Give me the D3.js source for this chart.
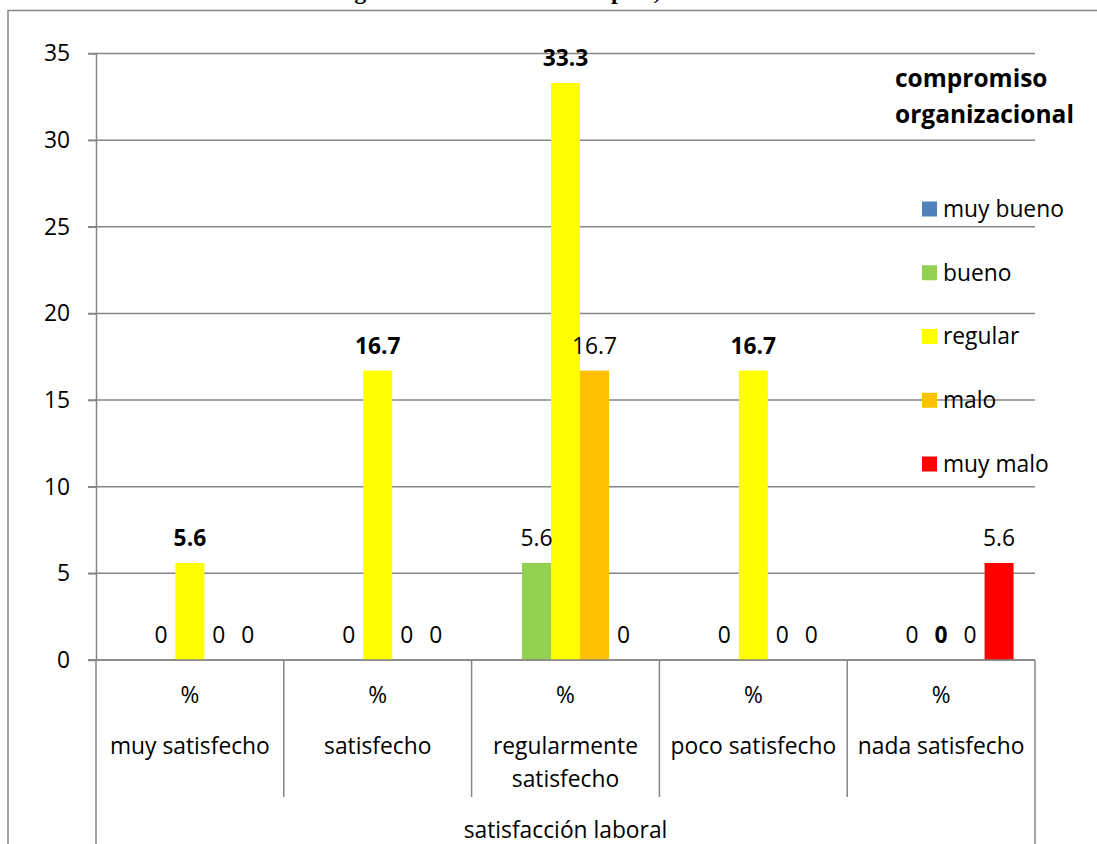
<!DOCTYPE html>
<html>
<head>
<meta charset="utf-8">
<script src="https://cdn.jsdelivr.net/npm/d3@7"></script>
<style>
  body { margin: 0; background: #fff; }
  svg text { font-family: "Open Sans", Lato, sans-serif; fill: #000; }
</style>
</head>
<body>
<svg id="chart" width="1097" height="844"></svg>
<script>
// categories and series
var categories = ["muy satisfecho", "satisfecho", "regularmente satisfecho", "poco satisfecho", "nada satisfecho"];
var series = ["muy bueno", "bueno", "regular", "malo", "muy malo"];

// % per series, one value per category
var muyBueno = [0, 0, 0, 0, 0];
var bueno = [0, 0, 5.6, 0, 0];
var regular = [5.6, 16.7, 33.3, 16.7, 0];
var malo = [0, 0, 16.7, 0, 0];
var muyMalo = [0, 0, 0, 0, 5.6];

var yTicks = [0, 5, 10, 15, 20, 25, 30, 35];
var subLabel = "%";
var groupLabel = "satisfacción laboral";
var legendTitle = ["compromiso", "organizacional"];
var titleText = "Satisfacción laboral según los resultados del empleo, 2016";

var values = [muyBueno, bueno, regular, malo, muyMalo];
var colors = ["#4F81BD", "#92D050", "#FFFF00", "#FFC000", "#FF0000"];

var svg = d3.select("#chart");
var gridColor = "#868686";
var fontSize = "22.8px";

var plotLeft = 96, plotRight = 1035, plotBottom = 660, plotTop = 53.5;

var x0 = d3.scaleBand().domain(categories).range([plotLeft, plotRight]);
var x1 = d3.scaleBand().domain(series).range([0, x0.bandwidth()])
    .paddingInner(0).paddingOuter(0.74);
var y = d3.scaleLinear().domain([0, 35]).range([plotBottom, plotTop]);

// title (only its descenders show at the top of the picture)
svg.append("text")
    .attr("x", 420)
    .attr("y", -1)
    .attr("text-anchor", "middle")
    .style("font-family", "'Liberation Serif', serif")
    .style("font-weight", "bold")
    .style("font-size", "24px")
    .text(titleText);

// outer chart frame
svg.append("rect")
    .attr("x", 8).attr("y", 10.5)
    .attr("width", 1200).attr("height", 1000)
    .attr("fill", "none")
    .attr("stroke", gridColor)
    .attr("stroke-width", 1.5);

// gridlines
svg.append("g").selectAll("line")
    .data(yTicks)
    .enter().append("line")
    .attr("x1", plotLeft - 8).attr("x2", plotRight)
    .attr("y1", function (d) { return y(d); })
    .attr("y2", function (d) { return y(d); })
    .attr("stroke", gridColor)
    .attr("stroke-width", 1.5);

// y axis
var yAxis = svg.append("g")
    .attr("transform", "translate(" + plotLeft + ",0)")
    .call(d3.axisLeft(y).tickValues(yTicks).tickSize(8).tickSizeOuter(0).tickPadding(18));
yAxis.select(".domain").attr("stroke", gridColor).attr("stroke-width", 1.5);
yAxis.selectAll(".tick line").attr("stroke", gridColor).attr("stroke-width", 1.5);
yAxis.selectAll("text").style("font-size", fontSize).style("font-family", "'Open Sans', sans-serif").attr("fill", "#000");

// bars
var groups = svg.append("g").selectAll("g")
    .data(categories)
    .enter().append("g")
    .attr("transform", function (d) { return "translate(" + x0(d) + ",0)"; });

groups.selectAll("rect")
    .data(function (c, i) {
        return series.map(function (s, j) { return { s: s, j: j, v: values[j][i] }; });
    })
    .enter().append("rect")
    .attr("x", function (d) { return x1(d.s); })
    .attr("width", x1.bandwidth())
    .attr("y", function (d) { return y(d.v); })
    .attr("height", function (d) { return plotBottom - y(d.v); })
    .attr("fill", function (d) { return colors[d.j]; });

// data labels (the first series has none, "regular" is bold)
groups.selectAll("text.lab")
    .data(function (c, i) {
        return series.map(function (s, j) { return { s: s, j: j, v: values[j][i] }; })
            .filter(function (d) { return d.j > 0; });
    })
    .enter().append("text")
    .attr("class", "lab")
    .attr("x", function (d) { return x1(d.s) + x1.bandwidth() / 2; })
    .attr("y", function (d) { return y(d.v) - 17; })
    .attr("text-anchor", "middle")
    .style("font-size", fontSize)
    .style("font-weight", function (d) { return d.j === 2 ? "bold" : "normal"; })
    .text(function (d) { return d.v; });

// x axis line and category dividers
svg.append("line")
    .attr("x1", plotLeft - 8).attr("x2", plotRight)
    .attr("y1", plotBottom).attr("y2", plotBottom)
    .attr("stroke", gridColor).attr("stroke-width", 1.5);

var edges = categories.map(function (c) { return x0(c); }).concat([plotRight]);
svg.append("g").selectAll("line")
    .data(edges)
    .enter().append("line")
    .attr("x1", function (d) { return d; })
    .attr("x2", function (d) { return d; })
    .attr("y1", plotBottom)
    .attr("y2", function (d, i) { return (i === 0 || i === edges.length - 1) ? 844 : 797; })
    .attr("stroke", gridColor).attr("stroke-width", 1.5);

// category labels
var catLabels = svg.append("g").selectAll("g")
    .data(categories)
    .enter().append("g")
    .attr("transform", function (d) { return "translate(" + (x0(d) + x0.bandwidth() / 2) + ",0)"; });

catLabels.append("text")
    .attr("y", 703)
    .attr("text-anchor", "middle")
    .style("font-size", fontSize)
    .text(subLabel);

catLabels.append("text")
    .attr("y", 754)
    .attr("text-anchor", "middle")
    .style("font-size", fontSize)
    .each(function (d) {
        var t = d3.select(this);
        var words = d.split(" ");
        var line = [];
        var tspan = t.append("tspan").attr("x", 0);
        words.forEach(function (w) {
            line.push(w);
            tspan.text(line.join(" "));
            if (tspan.node().getComputedTextLength() > x0.bandwidth() - 8 && line.length > 1) {
                line.pop();
                tspan.text(line.join(" "));
                line = [w];
                tspan = t.append("tspan").attr("x", 0).attr("dy", 33).text(w);
            }
        });
    });

svg.append("text")
    .attr("x", (plotLeft + plotRight) / 2)
    .attr("y", 838)
    .attr("text-anchor", "middle")
    .style("font-size", fontSize)
    .text(groupLabel);

// legend
var legend = svg.append("g");
legend.selectAll("text.title")
    .data(legendTitle)
    .enter().append("text")
    .attr("class", "title")
    .attr("x", 895)
    .attr("y", function (d, i) { return 87 + i * 36; })
    .style("font-size", "24.5px")
    .style("font-weight", "bold")
    .text(function (d) { return d; });

var ly = d3.scalePoint().domain(series).range([209, 464]);
var items = legend.selectAll("g.item")
    .data(series)
    .enter().append("g")
    .attr("class", "item")
    .attr("transform", function (d) { return "translate(922," + ly(d) + ")"; });

items.append("rect")
    .attr("x", 0).attr("y", -7.5)
    .attr("width", 15).attr("height", 15)
    .attr("fill", function (d, i) { return colors[i]; });

items.append("text")
    .attr("x", 21)
    .attr("dy", "0.35em")
    .style("font-size", fontSize)
    .text(function (d) { return d; });
</script>
</body>
</html>
